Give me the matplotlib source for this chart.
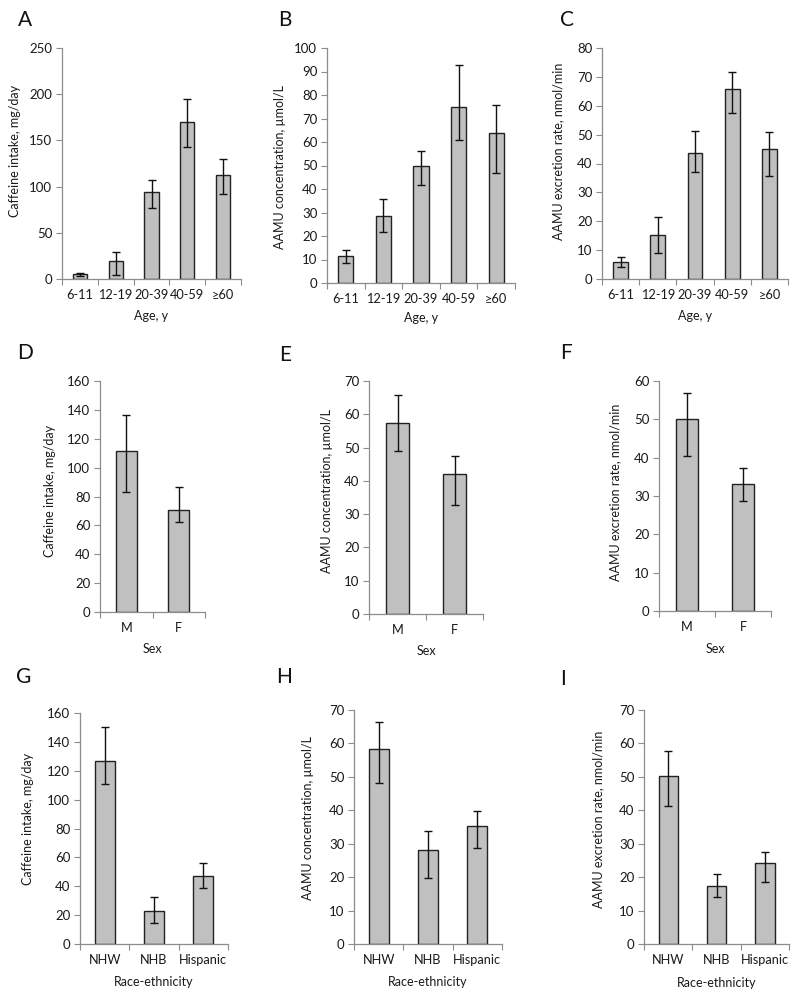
import matplotlib
matplotlib.use("Agg")
import matplotlib.pyplot as plt
import numpy as np

plt.rcParams['font.family'] = ['Lato', 'DejaVu Sans']

# ---------------- data ----------------
age_cats = ['6-11', '12-19', '20-39', '40-59', '≥60']
sex_cats = ['M', 'F']
race_cats = ['NHW', 'NHB', 'Hispanic']

# A: caffeine intake by age
caff_age = [5.4, 19.8, 93.8, 169.9, 112.2]
caff_age_lo = [3.6, 4.3, 76.5, 143.2, 92.0]
caff_age_hi = [6.5, 29.2, 107.5, 195.2, 129.5]
# B: AAMU concentration by age
conc_age = [11.4, 28.6, 49.9, 75.1, 64.0]
conc_age_lo = [8.5, 21.5, 41.7, 60.7, 46.9]
conc_age_hi = [13.9, 35.8, 56.2, 92.6, 75.8]
# C: AAMU excretion rate by age
rate_age = [6.0, 15.4, 43.6, 65.7, 45.0]
rate_age_lo = [4.2, 9.1, 36.9, 57.6, 35.5]
rate_age_hi = [7.5, 21.4, 51.4, 71.7, 50.8]
# D: caffeine by sex
caff_sex = [111.3, 70.4]
caff_sex_lo = [83.1, 62.1]
caff_sex_hi = [136.2, 86.8]
# E: conc by sex
conc_sex = [57.3, 42.0]
conc_sex_lo = [49.1, 32.7]
conc_sex_hi = [65.9, 47.6]
# F: rate by sex
rate_sex = [50.0, 33.2]
rate_sex_lo = [40.5, 28.7]
rate_sex_hi = [56.8, 37.4]
# G: caffeine by race
caff_race = [127.0, 22.8, 47.0]
caff_race_lo = [110.9, 14.5, 38.7]
caff_race_hi = [150.5, 32.7, 55.8]
# H: conc by race
conc_race = [58.4, 28.0, 35.4]
conc_race_lo = [48.1, 19.8, 28.7]
conc_race_hi = [66.4, 33.9, 39.9]
# I: rate by race
rate_race = [50.2, 17.5, 24.3]
rate_race_lo = [41.3, 14.0, 18.4]
rate_race_hi = [57.6, 20.8, 27.6]

y_caff = 'Caffeine intake, mg/day'
y_conc = 'AAMU concentration, µmol/L'
y_rate = 'AAMU excretion rate, nmol/min'

W, H = 800, 998
fig = plt.figure(figsize=(W / 100, H / 100), dpi=100)

GRAY = '#8c8c8c'
TXT = '#1a1a1a'

panels = [
    # letter, cats, vals, lo, hi, ymax, step, ylabel, xlabel, (l, r, top, bottom), letter pos, ylabel x, ylabel yc, xlabel y
    ('A', age_cats, caff_age, caff_age_lo, caff_age_hi, 250, 50, y_caff, 'Age, y', (62, 241, 48, 279), (25, 20), 15, 151, 316),
    ('B', age_cats, conc_age, conc_age_lo, conc_age_hi, 100, 10, y_conc, 'Age, y', (327, 515, 48, 283), (285, 20), 280, 167, 318),
    ('C', age_cats, rate_age, rate_age_lo, rate_age_hi, 80, 10, y_rate, 'Age, y', (602, 788, 48, 279), (567, 20), 558, 151, 316),
    ('D', sex_cats, caff_sex, caff_sex_lo, caff_sex_hi, 160, 20, y_caff, 'Sex', (100, 205, 381, 612), (25, 353), 50, 491, 649),
    ('E', sex_cats, conc_sex, conc_sex_lo, conc_sex_hi, 70, 10, y_conc, 'Sex', (369, 483, 381, 614), (285, 355), 327, 491, 651),
    ('F', sex_cats, rate_sex, rate_sex_lo, rate_sex_hi, 60, 10, y_rate, 'Sex', (659, 771, 381, 611), (566, 353), 615, 492, 649),
    ('G', race_cats, caff_race, caff_race_lo, caff_race_hi, 160, 20, y_caff, 'Race-ethnicity', (80, 228, 713, 944), (24, 677), 28, 819, 982),
    ('H', race_cats, conc_race, conc_race_lo, conc_race_hi, 70, 10, y_conc, 'Race-ethnicity', (354, 502, 710, 944), (284, 677), 308, 818, 982),
    ('I', race_cats, rate_race, rate_race_lo, rate_race_hi, 70, 10, y_rate, 'Race-ethnicity', (644, 789, 710, 944), (563, 679), 598, 819, 983),
]

for (letter, cats, vals, lo, hi, ymax, step, ylab, xlab, box, lpos, ylx, yly, xly) in panels:
    l, r, t, b = box
    ax = fig.add_axes([l / W, 1 - b / H, (r - l) / W, (b - t) / H])
    n = len(cats)
    x = np.arange(n)
    vals_a = np.array(vals)
    err = np.vstack([vals_a - np.array(lo), np.array(hi) - vals_a])
    ax.bar(x, vals_a, width=0.4, color='#c0c0c0', edgecolor='#222222', linewidth=1.0, zorder=2)
    ax.errorbar(x, vals_a, yerr=err, fmt='none', ecolor='#111111', elinewidth=1.0,
                capsize=3.2, capthick=1.0, zorder=3)
    ax.set_xlim(-0.5, n - 0.5)
    ax.set_ylim(0, ymax)
    ax.set_yticks(np.arange(0, ymax + step / 2, step))
    ax.set_xticks(x)
    ax.set_xticklabels(cats)
    ax.set_xticks(np.arange(-0.5, n, 1.0), minor=True)
    ax.tick_params(axis='x', which='major', length=0, pad=7, labelsize=9.2, labelcolor=TXT)
    ax.tick_params(axis='x', which='minor', length=4, width=0.8, color=GRAY, direction='out')
    ax.tick_params(axis='y', which='major', length=4, width=0.8, color=GRAY, direction='out',
                   labelsize=9.5, labelcolor=TXT, pad=3)
    for s in ['top', 'right']:
        ax.spines[s].set_visible(False)
    for s in ['left', 'bottom']:
        ax.spines[s].set_color(GRAY)
        ax.spines[s].set_linewidth(0.9)
    ax.patch.set_alpha(0)

    fig.text(lpos[0] / W, 1 - lpos[1] / H, letter, fontsize=15, ha='center', va='center', color='#111111')
    fig.text(ylx / W, 1 - yly / H, ylab, rotation=90, fontsize=9, ha='center', va='center', color=TXT)
    fig.text((l + r) / 2 / W, 1 - xly / H, xlab, fontsize=9, ha='center', va='center', color=TXT)

fig.savefig('out.png', dpi=100, facecolor='white')
